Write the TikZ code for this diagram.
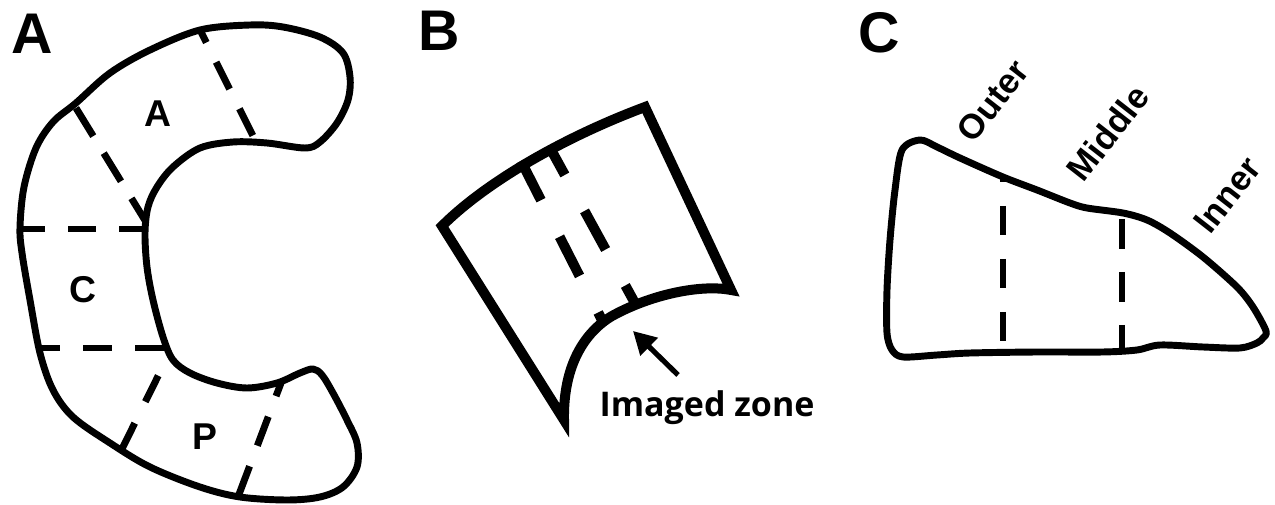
\documentclass[tikz,border=0pt]{standalone}
\usepackage{fontspec}
\setmainfont{Liberation Sans}
\newfontfamily\zonefont{Open Sans}
\usetikzlibrary{arrows.meta}

\tikzset{
  outlineA/.style={line width=5.2pt, line join=round},
  cutA/.style={line width=5.2pt},
  outlineB/.style={line width=7.5pt, line join=miter, miter limit=6},
  cutB/.style={line width=7.5pt, dash pattern=on 33pt off 30.75pt},
  panel/.style={inner sep=0pt, font=\bfseries\fontsize{43}{43}\selectfont},
  region/.style={inner sep=0pt, font=\bfseries\fontsize{28}{28}\selectfont},
  layer/.style={inner sep=0pt, rotate=52, font=\bfseries\fontsize{26}{26}\selectfont},
  zonelabel/.style={inner sep=0pt, anchor=base, font=\zonefont\bfseries\fontsize{25.5}{25.5}\selectfont},
  pointer/.style={line width=3.9pt, -{Triangle[length=17pt, width=18pt]}}
}

\begin{document}
\begin{tikzpicture}[x=0.75pt, y=-0.75pt]
\useasboundingbox (0,0) rectangle (1275,505);

% ---------- panel letters ----------
\node[panel] (lblA) at (32,34) {A};
\node[panel] (lblB) at (439,31) {B};
\node[panel] (lblC) at (879,33) {C};

% ---------- A: C-shaped section with its cut lines ----------
\draw[cutA, dash pattern=on 22.5pt off 16.5pt, dash phase=12pt] (200,30) -- (255,140);
\draw[cutA, dash pattern=on 24.75pt off 15pt] (76,108) -- (146,222);
\draw[cutA, dash pattern=on 21pt off 17.25pt, dash phase=3.75pt] (22,229) -- (146,229);
\draw[cutA, dash pattern=on 21.75pt off 17.25pt, dash phase=4.5pt] (37,348) -- (164,348);
\draw[cutA, dash pattern=on 21.75pt off 18pt, dash phase=23.25pt] (168,356) -- (120,453);
\draw[cutA, dash pattern=on 23.25pt off 16.5pt, dash phase=12.75pt] (281,383) -- (238,497);

\draw[outlineA] plot[smooth cycle, tension=0.55] coordinates {
  (200,30) (250,25) (283,27) (320,37) (343,53) (350,77) (348,100)
  (337,123) (320,142) (305,148) (267,143) (233,142) (200,148)
  (173,167) (157,187) (148,207) (145,233) (147,267) (153,300)
  (163,337) (173,360) (190,373) (217,383) (247,388) (277,383)
  (300,373) (313,369) (322,375) (333,393) (347,420) (357,443)
  (357,467) (343,487) (320,497) (287,500) (240,497) (200,487)
  (150,467) (110,443) (73,417) (53,390) (40,353) (30,300)
  (22,253) (20,227) (24,187) (36,148) (53,122) (76,103)
  (110,73) (150,50)};

\node[region] (zoneA) at (158,114) {A};
\node[region] (zoneC) at (83,290) {C};
\node[region] (zoneP) at (205,437) {P};

% ---------- B: curved slab with the imaged zone ----------
\draw[cutB] (521,161) -- (604,324);
\draw[cutB, dash phase=8.25pt] (549,146) -- (636,305);

\draw[outlineB] (442,226) .. controls (485,183) and (562,138) .. (645,107)
  -- (731,290) .. controls (700,284) and (650,295) .. (612,316)
  .. controls (585,332) and (563,365) .. (564,420) -- cycle;

\coordinate (arrowtail) at (678,375);
\coordinate (arrowtip) at (633,331);
\draw[pointer] (arrowtail) -- (arrowtip);
\node[zonelabel] (zone) at (707,417) {Imaged zone};

% ---------- C: wedge split into outer, middle and inner thirds ----------
\draw[cutA, dash pattern=on 21.75pt off 18pt, dash phase=18.75pt] (1003,178) -- (1003,342);
\draw[cutA, dash pattern=on 22.5pt off 17.25pt] (1122,219) -- (1122,353);

\draw[outlineA] plot[smooth cycle, tension=0.5] coordinates {
  (920,140) (937,147) (960,158) (1003,177) (1037,190) (1070,203)
  (1087,208) (1123,213) (1147,220) (1170,233) (1203,257) (1237,287)
  (1253,307) (1266,331) (1263,338) (1257,343) (1240,348) (1203,347)
  (1160,345) (1137,350) (1103,352) (1037,352) (970,353) (937,355)
  (903,357) (892,350) (887,333) (887,290) (890,240) (895,190)
  (902,150)};

\node[layer] (outer) at (993,101) {Outer};
\node[layer] (middle) at (1108,133) {Middle};
\node[layer] (inner) at (1227,195) {Inner};
\end{tikzpicture}
\end{document}
